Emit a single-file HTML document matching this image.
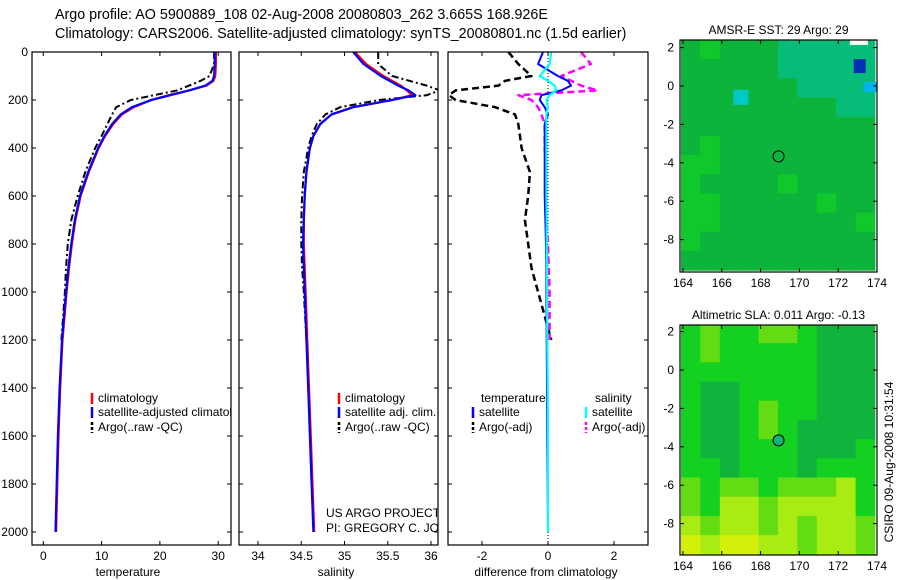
<!DOCTYPE html>
<html><head><meta charset="utf-8"><style>
body{margin:0;background:#fff;}
svg{display:block;font-family:"Liberation Sans",sans-serif;}
</style></head><body>
<svg id="c" width="900" height="580" viewBox="0 0 900 580" xmlns="http://www.w3.org/2000/svg">
<text x="55" y="19" font-size="14.3">Argo profile: AO 5900889_108 02-Aug-2008 20080803_262 3.665S 168.926E</text>
<text x="55" y="38" font-size="14.3">Climatology: CARS2006. Satellite-adjusted climatology: synTS_20080801.nc (1.5d earlier)</text>
<g id="layer"></g>
<text transform="translate(893,462) rotate(-90)" font-size="12" text-anchor="middle">CSIRO 09-Aug-2008 10:31:54</text>
</svg>
<script>
// ---- profile data ----
const depth     = [0,50,100,120,140,160,180,200,230,260,300,350,400,500,600,700,800,900,1000,1200,1400,1600,1800,2000];
const tempClim  = [29.6,29.6,29.5,29.2,28.0,25.0,21.5,18.5,15.5,13.5,12.0,10.6,9.5,7.8,6.4,5.5,4.9,4.4,4.0,3.3,2.9,2.6,2.4,2.2];
const tempAdj   = [29.4,29.4,29.3,29.0,27.8,25.0,21.8,18.5,15.2,13.3,11.8,10.5,9.4,7.7,6.3,5.4,4.8,4.3,3.9,3.2,2.8,2.5,2.3,2.1];
const tempArgo  = [29.3,29.3,28.5,27.0,25.0,23.0,19.0,15.0,12.5,11.8,11.0,10.0,8.9,7.2,5.9,4.8,4.2,3.9,3.7,3.1];
const salClim   = [35.12,35.25,35.45,35.55,35.65,35.72,35.78,35.55,35.10,34.85,34.72,34.64,34.60,34.56,34.54,34.53,34.53,34.54,34.55,34.57,34.59,34.61,34.63,34.65];
const salAdj    = [35.10,35.22,35.42,35.52,35.62,35.74,35.82,35.55,35.10,34.85,34.72,34.64,34.60,34.56,34.54,34.53,34.52,34.53,34.54,34.56,34.58,34.60,34.62,34.64];
const salArgo   = [35.39,35.39,35.55,35.75,35.95,36.10,35.95,35.40,34.95,34.78,34.68,34.62,34.58,34.53,34.51,34.50,34.50,34.51,34.53,34.56];
const dTempSat  = [-0.15,-0.3,0.3,0.6,0.7,0.4,-0.2,-0.25,-0.1,0,-0.1,-0.1,-0.1,-0.1,-0.1,-0.08,-0.06,-0.05,-0.05,-0.04,-0.03,-0.02,-0.01,0];
const dSalSat   = [0.1,0.05,-0.25,0.0,0.2,0.25,0.05,-0.05,0,-0.05,-0.05,-0.05,-0.05,-0.05,-0.05,-0.04,-0.04,-0.03,-0.03,-0.02,-0.01,0,0,0];
const dTempArgo = [-1.2,-0.9,-0.5,-1.3,-1.5,-2.8,-3.0,-2.8,-1.6,-1.0,-0.9,-0.85,-0.8,-0.55,-0.6,-0.7,-0.6,-0.5,-0.3,0.1];
const dSalArgo  = [1.0,1.3,0.4,0.7,1.0,1.5,-0.9,-0.5,-0.3,-0.2,-0.1,-0.1,-0.1,-0.05,-0.05,-0.05,0,0.02,0.05,0.05];
const tempTicks = [0,10,20,30];
const salTicks  = ["34","34.5","35","35.5","36"];
const diffTicks = [-2,0,2];
const depthTicks= [0,200,400,600,800,1000,1200,1400,1600,1800,2000];
// ---- map data (coarse grid, 1 degree cells, rows from 2.4N southward) ----
const sstGrid = ["abaaaccccc","aaaaaccccc","aaaaaacccc","aaaaaaaacc","aaaaaaaaaa","abaaaaaaaa","bbaaaaaaaa","baaaabaaaa","bbaaaaabaa","bbaaaaaaab","baaaaaaaaa","aaaaaaaaaa"];
const slaGrid = ["BCBBCCBAAA","BCBBBBBAAA","BBBBBBBAAA","BAABBBBAAA","BAABCBBAAA","BAABCBAAAA","BAABBBAAAB","BBABBBABBB","CBCCBCCCDB","CBDDCDDDDB","DCDDCDCDDC","EDEEDDCDDC"];
const lonTicks = [164,166,168,170,172,174];
const latTicks = [2,0,-2,-4,-6,-8];
const floatLon = 168.926, floatLat = -3.665;

const NS="http://www.w3.org/2000/svg";
const L=document.getElementById('layer');
function mk(tag,at,parent){const e=document.createElementNS(NS,tag);for(const k in at)e.setAttribute(k,at[k]);(parent||L).appendChild(e);return e;}
const yD=d=>52+d*0.24;

function panel(x0,x1,y0,y1,name){
  const g=mk('g',{});
  
  
  const cid='clip-'+name;
  const cp=mk('clipPath',{id:cid},g);mk('rect',{x:x0,y:y0,width:x1-x0,height:y1-y0},cp);
  const inner=mk('g',{'clip-path':'url(#'+cid+')'},g);
  const frame=mk('rect',{x:x0,y:y0,width:x1-x0,height:y1-y0,fill:'none',stroke:'#000','stroke-width':1.2},g);
  
  
  return {g,inner};
}
function line(par,xs,ds,fx,color,w,dash,name){
  const pts=xs.map((v,i)=>fx(v).toFixed(1)+','+yD(depth[i]).toFixed(1)).join(' ');
  const p=mk('polyline',{points:pts,fill:'none',stroke:color,'stroke-width':w,'stroke-dasharray':dash||'none','stroke-linejoin':'round'},par);
  
  
}
function yTicks(P,x0,x1,labels){
  depthTicks.forEach(d=>{
    const y=yD(d);
    mk('line',{x1:x0,x2:x0+4,y1:y,y2:y,stroke:'#000'},P.g);
    mk('line',{x1:x1,x2:x1-4,y1:y,y2:y,stroke:'#000'},P.g);
    if(labels){const t=mk('text',{x:x0-4,y:y+4,'font-size':12,'text-anchor':'end'},P.g);t.textContent=d;
      
      }
  });
}
function xTicks(P,vals,fx,y0,y1,labels,cls){
  vals.forEach((v,i)=>{const x=fx(+v);
    mk('line',{x1:x,x2:x,y1:y1,y2:y1-4,stroke:'#000'},P.g);
    mk('line',{x1:x,x2:x,y1:y0,y2:y0+4,stroke:'#000'},P.g);
    const t=mk('text',{x:x,y:y1+15,'font-size':12,'text-anchor':'middle'},P.g);t.textContent=labels[i];
    
    
  });
}
function txt(par,x,y,s,name,size,anchor){const t=mk('text',{x,y,'font-size':size||12,'text-anchor':anchor||'start'},par);t.textContent=s;
  
  return t;}
function legend(par,x,y,color,dash,label,name){
  const l=mk('line',{x1:x,x2:x,y1:y-9,y2:y+2,stroke:color,'stroke-width':2.5,'stroke-dasharray':dash||'none'},par);
  
  
  txt(par,x+6,y,label,name);
}

// Panel 1 temperature
const fT=v=>43.3+v*5.83;
const P1=panel(32,231,52,545,'temperature-panel');
line(P1.inner,tempArgo,depth,fT,'#000',2,'7,3,2,3','temp-argo-line');
line(P1.inner,tempClim,depth,fT,'#f00',2.2,null,'temp-climatology-line');
line(P1.inner,tempAdj,depth,fT,'#00f',2.2,null,'temp-satellite-adjusted-line');
yTicks(P1,32,231,true);
xTicks(P1,tempTicks,fT,52,545,tempTicks.map(String),'temp-tick-label');
txt(L,128,576,'temperature','x-axis-title-temperature',12,'middle');
legend(P1.inner,92,402,'#f00',null,'climatology','legend-climatology');
legend(P1.inner,92,416,'#00f',null,'satellite-adjusted climatology','legend-satellite-adjusted');
legend(P1.inner,92,431,'#000','3,2','Argo(..raw -QC)','legend-argo');

// Panel 2 salinity
const fS=v=>258+(v-34)*86.5;
const P2=panel(239,438,52,545,'salinity-panel');
line(P2.inner,salArgo,depth,fS,'#000',2,'7,3,2,3','sal-argo-line');
line(P2.inner,salClim,depth,fS,'#f00',2.2,null,'sal-climatology-line');
line(P2.inner,salAdj,depth,fS,'#00f',2.2,null,'sal-satellite-adjusted-line');
yTicks(P2,239,438,false);
xTicks(P2,salTicks,fS,52,545,salTicks,'sal-tick-label');
txt(L,336,576,'salinity','x-axis-title-salinity',12,'middle');
legend(P2.inner,339,402,'#f00',null,'climatology','legend-sal-climatology');
legend(P2.inner,339,416,'#00f',null,'satellite adj. clim.','legend-sal-satellite');
legend(P2.inner,339,431,'#000','3,2','Argo(..raw -QC)','legend-sal-argo');
txt(P2.inner,326,517,'US ARGO PROJECT','project-label');
txt(P2.inner,326,532,'PI: GREGORY C. JOHNSON','pi-label');

// Panel 3 difference
const fD=v=>548+v*33;
const P3=panel(448,648,52,545,'difference-panel');
mk('line',{x1:fD(0),x2:fD(0),y1:52,y2:545,stroke:'#000','stroke-dasharray':'1,2'},P3.inner);
line(P3.inner,dTempArgo,depth,fD,'#000',2.5,'7,4','diff-temp-argo-line');
line(P3.inner,dSalArgo,depth,fD,'#f0f',2.5,'7,4','diff-sal-argo-line');
line(P3.inner,dTempSat,depth,fD,'#00f',2,null,'diff-temp-satellite-line');
line(P3.inner,dSalSat,depth,fD,'#0ff',2.2,null,'diff-sal-satellite-line');
yTicks(P3,448,648,false);
xTicks(P3,diffTicks,fD,52,545,diffTicks.map(String),'diff-tick-label');
txt(L,546,576,'difference from climatology','x-axis-title-difference',12,'middle');
txt(P3.inner,481,402,'temperature','legend-temp-heading');
txt(P3.inner,595,402,'salinity','legend-sal-heading');
legend(P3.inner,473,416,'#00f',null,'satellite','legend-diff-temp-sat');
legend(P3.inner,473,431,'#000','3,2','Argo(-adj)','legend-diff-temp-argo');
legend(P3.inner,586,416,'#0ff',null,'satellite','legend-diff-sal-sat');
legend(P3.inner,586,431,'#f0f','3,2','Argo(-adj)','legend-diff-sal-argo');

// Maps
function map(y0,y1,lat0y,grid,pal,title,name){
  const x0=680,x1=877, fx=v=>683+(v-164)*19.4, fy=v=>lat0y-v*19.2;
  const P=panel(x0,x1,y0,y1,name);
  grid.forEach((row,r)=>[...row].forEach((ch,c)=>{
    const rc=mk('rect',{x:fx(164+c)-2,y:fy(2.4-r),width:19.8,height:19.6,fill:pal[ch]},P.inner);
    
    
  }));
  lonTicks.forEach(v=>{const x=fx(v);mk('line',{x1:x,x2:x,y1:y1,y2:y1-4,stroke:'#000'},P.g);mk('line',{x1:x,x2:x,y1:y0,y2:y0+4,stroke:'#000'},P.g);
    txt(P.g,x,y1+15,String(v),'lon-tick-label',12,'middle');});
  latTicks.forEach(v=>{const y=fy(v);mk('line',{x1:x0,x2:x0+4,y1:y,y2:y,stroke:'#000'},P.g);mk('line',{x1:x1,x2:x1-4,y1:y,y2:y,stroke:'#000'},P.g);
    txt(P.g,x0-6,y+4,String(v),'lat-tick-label',12,'end');});
  txt(L,(x0+x1)/2,y0-6,title,name+'-title',12,'middle');
  return {P,fx,fy};
}
const M1=map(40,272,86,sstGrid,{a:'#0cb43c',b:'#10c82c',c:'#06bc78'},'AMSR-E SST: 29 Argo: 29','sst-map');
mk('rect',{x:M1.fx(166.6),y:M1.fy(-0.2),width:15,height:15,fill:'#00c8c8'},M1.P.inner);
mk('rect',{x:M1.fx(172.8),y:M1.fy(1.4),width:12,height:14,fill:'#0030b4'},M1.P.inner);
mk('rect',{x:M1.fx(172.6),y:M1.fy(2.4),width:18,height:5,fill:'#fff'},M1.P.inner);
mk('rect',{x:M1.fx(173.3),y:M1.fy(0.2),width:14,height:10,fill:'#00b4f0'},M1.P.inner);
const c1=mk('circle',{cx:M1.fx(floatLon),cy:M1.fy(floatLat),r:5.5,fill:'none',stroke:'#000'},M1.P.inner);


const M2=map(325,555,370,slaGrid,{A:'#10b43c',B:'#14d020',C:'#64dc14',D:'#a8ec14',E:'#d2f00a'},'Altimetric SLA: 0.011 Argo: -0.13','sla-map');
const c2=mk('circle',{cx:M2.fx(floatLon),cy:M2.fy(floatLat),r:5.5,fill:'#14b478',stroke:'#000'},M2.P.inner);


</script>
</body></html>
